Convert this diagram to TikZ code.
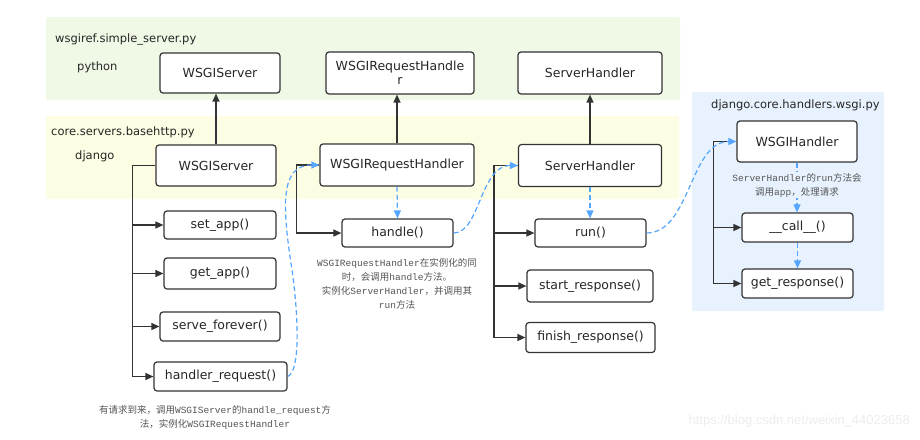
\documentclass[tikz,border=0pt]{standalone}
\usepackage{fontspec}
\usetikzlibrary{arrows.meta}
\newfontfamily\boxf{DejaVu Sans}
\newfontfamily\cjk{Noto Sans CJK SC}
\newfontfamily\monof{Liberation Mono}
\newfontfamily\wmf{Liberation Sans}
\definecolor{greenbg}{HTML}{F0F8E6}
\definecolor{yellowbg}{HTML}{FDFDE4}
\definecolor{bluebg}{HTML}{E7F2FE}
\definecolor{dashblue}{HTML}{55A6FF}
\definecolor{boxline}{HTML}{333333}
\definecolor{anncol}{HTML}{555555}
\tikzset{
  box/.style={draw=boxline, line width=1.2pt, rounded corners=3pt, fill=white,
    inner sep=0pt, align=center, font=\boxf\fontsize{12.5}{14}\selectfont, text=black!85},
  grp/.style={font=\boxf\fontsize{11.5}{13}\selectfont, text=black!85, anchor=west, inner sep=0pt},
  arr/.style={draw=boxline, line width=1.3pt, -{Triangle[length=8pt,width=7pt]}},
  ln/.style={draw=boxline, line width=1.3pt},
  darr/.style={draw=dashblue, line width=1.2pt, dash pattern=on 5pt off 3pt, -{Triangle[length=8pt,width=7pt]}},
  ann/.style={font=\fontsize{9.5}{14}\selectfont, text=anncol, align=center, inner sep=0pt}
}
\begin{document}
\begin{tikzpicture}[x=1pt,y=-1pt]
\useasboundingbox (0,0) rectangle (920,439);
\fill[white] (0,0) rectangle (920,439);
% group backgrounds
\fill[greenbg, rounded corners=2pt] (46,17) rectangle (680,100);
\fill[yellowbg, rounded corners=2pt] (46,116) rectangle (679,199);
\fill[bluebg, rounded corners=2pt] (692,92) rectangle (884,311);
\node[grp] (lwsgiref) at (55,39) {wsgiref.simple\_server.py};
\node[grp] (lpython) at (77,67) {python};
\node[grp] (lcore) at (51,132) {core.servers.basehttp.py};
\node[grp] (ldjango) at (75,156) {django};
\node[grp] (lwsgi) at (711,105) {django.core.handlers.wsgi.py};
% python row
\node[box, minimum width=120pt, minimum height=40pt] (psrv) at (220,73) {WSGIServer};
\node[box, minimum width=148pt, minimum height=42pt] (preq) at (400,73) {WSGIRequestHandle\\r};
\node[box, minimum width=144pt, minimum height=42pt] (psh) at (590,73) {ServerHandler};
% django row
\node[box, minimum width=120pt, minimum height=41pt] (dsrv) at (216,165.5) {WSGIServer};
\node[box, minimum width=154pt, minimum height=42pt] (dreq) at (397,165) {WSGIRequestHandler};
\node[box, minimum width=143pt, minimum height=42pt] (dsh) at (590,165.5) {ServerHandler};
\node[box, minimum width=120pt, minimum height=41pt] (wh) at (797,141.5) {WSGIHandler};
% methods
\node[box, minimum width=112pt, minimum height=28pt] (setapp) at (220,225) {set\_app()};
\node[box, minimum width=112pt, minimum height=31pt] (getapp) at (220,273.5) {get\_app()};
\node[box, minimum width=120pt, minimum height=29pt] (serve) at (220,326.5) {serve\_forever()};
\node[box, minimum width=133pt, minimum height=29pt] (hreq) at (220.5,376.5) {handler\_request()};
\node[box, minimum width=111pt, minimum height=28pt] (handle) at (397.5,233) {handle()};
\node[box, minimum width=111pt, minimum height=28pt] (run) at (590.5,233) {run()};
\node[box, minimum width=126pt, minimum height=32pt] (startr) at (590,286) {start\_response()};
\node[box, minimum width=129pt, minimum height=30pt] (finishr) at (590.5,337.5) {finish\_response()};
\node[box, minimum width=111pt, minimum height=29pt] (call) at (797.5,227.5) {\_\_call\_\_()};
\node[box, minimum width=111pt, minimum height=29pt] (getresp) at (797.5,283.5) {get\_response()};
% inheritance arrows
\draw[arr] (dsrv.north) -- (dsrv.north |- psrv.south);
\draw[arr] (dreq.north) -- (dreq.north |- preq.south);
\draw[arr] (dsh.north) -- (dsh.north |- psh.south);
% trunks
\draw[arr] (dsrv.west) -- ++(-23,0) coordinate (t1) |- (hreq.west);
\draw[arr] (t1 |- setapp.west) -- (setapp.west);
\draw[arr] (t1 |- getapp.west) -- (getapp.west);
\draw[arr] (t1 |- serve.west) -- (serve.west);
\draw[arr] (dreq.west) -- ++(-23,0) coordinate (t2) |- (handle.west);
\draw[arr] (dsh.west) -- ++(-24,0) coordinate (t3) |- (finishr.west);
\draw[arr] (t3 |- run.west) -- (run.west);
\draw[arr] (t3 |- startr.west) -- (startr.west);
\draw[arr] (wh.west) -- ++(-23,0) coordinate (t4) |- (getresp.west);
\draw[arr] (t4 |- call.west) -- (call.west);
% blue dashed
\draw[darr] (dreq.south) -- (handle.north);
\draw[darr] (dsh.south) -- (dsh.south |- run.north);
\draw[darr] (call.south) -- (call.north |- getresp.north);
\draw[darr] (wh.south) -- (wh.south |- call.north)
  node[pos=0.45, fill=bluebg, ann, inner sep=1pt] (lblrun) {{\monof ServerHandler}{\cjk 的}{\monof run}{\cjk 方法会}\\{\cjk 调用}{\monof app}{\cjk ，处理请求}};
\draw[darr] (hreq.east) .. controls (300,372) and (299,320) .. (292,270)
  .. controls (282,205) and (280,165) .. (dreq.west);
\draw[darr] (handle.east) .. controls (480,233) and (480,165.5) .. (dsh.west);
\draw[darr] (run.east) .. controls (690,233) and (690,141.5) .. (wh.west);
% annotations
\node[ann] (annhandle) at (397,284) {{\monof WSGIRequestHandler}{\cjk 在实例化的同}\\{\cjk 时，会调用}{\monof handle}{\cjk 方法。}\\{\cjk 实例化}{\monof ServerHandler}{\cjk ，并调用其}\\{\monof run}{\cjk 方法}};
\node[ann] (annreq) at (215,417.5) {{\cjk 有请求到来，调用}{\monof WSGIServer}{\cjk 的}{\monof handle\_request}{\cjk 方}\\{\cjk 法，实例化}{\monof WSGIRequestHandler}};
\node[font=\wmf\fontsize{13}{15}\selectfont, text=black!7, anchor=east, inner sep=0pt] (wm) at (910,421) {https://blog.csdn.net/weixin\_44023658};
\end{tikzpicture}
\end{document}
